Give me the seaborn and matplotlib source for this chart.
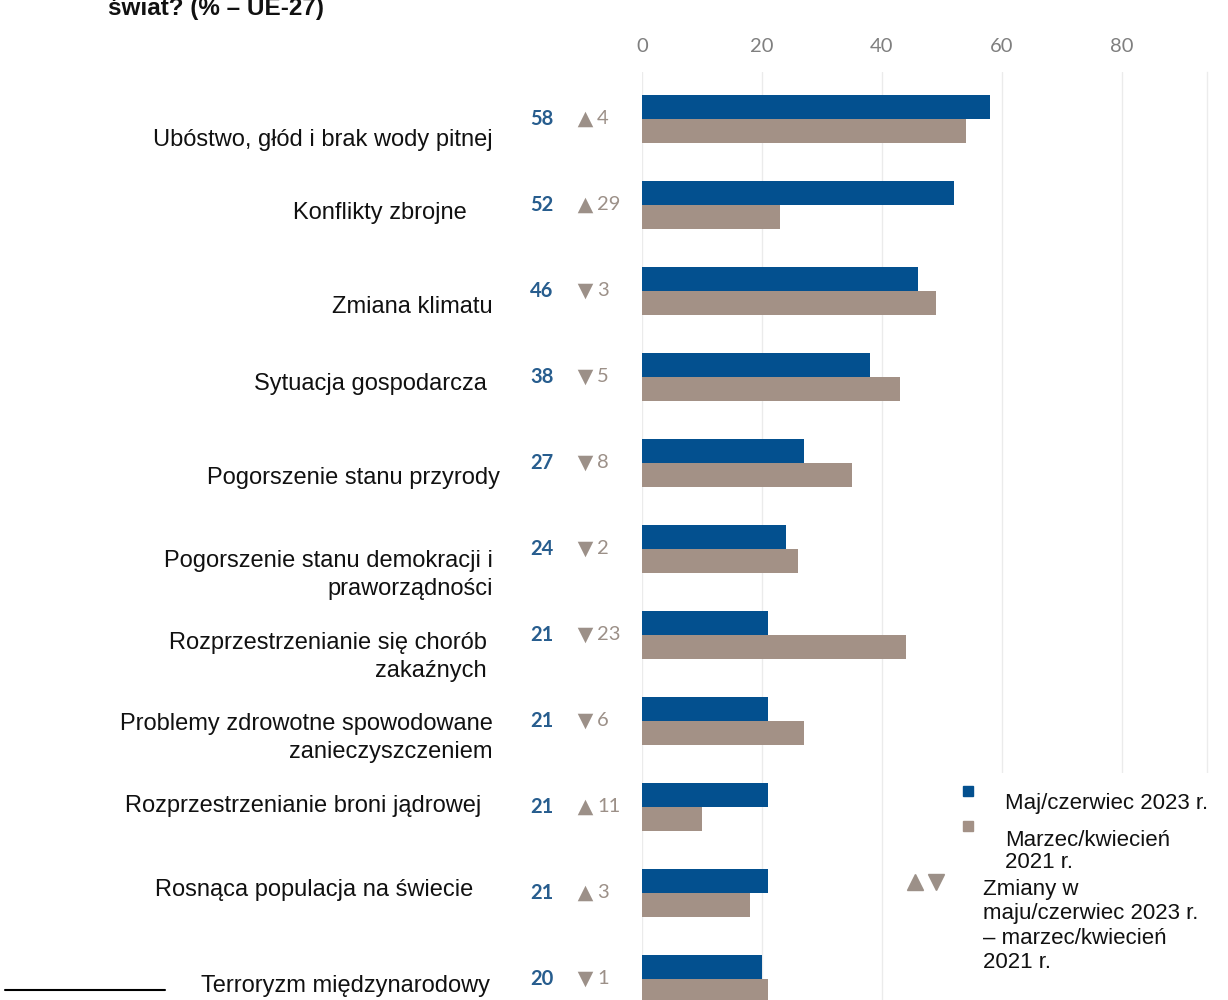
import matplotlib
matplotlib.use("Agg")
import matplotlib.pyplot as plt
import matplotlib.transforms as mtransforms
from matplotlib.lines import Line2D
from matplotlib.patches import Rectangle
import seaborn as sns
import pandas as pd

# ---------------- data ----------------
categories = [
    "Ubóstwo, głód i brak wody pitnej",
    "Konflikty zbrojne",
    "Zmiana klimatu",
    "Sytuacja gospodarcza",
    "Pogorszenie stanu przyrody",
    "Pogorszenie stanu demokracji i\npraworządności",
    "Rozprzestrzenianie się chorób\nzakaźnych",
    "Problemy zdrowotne spowodowane\nzanieczyszczeniem",
    "Rozprzestrzenianie broni jądrowej",
    "Rosnąca populacja na świecie",
    "Terroryzm międzynarodowy",
]
values_2023 = [58, 52, 46, 38, 27, 24, 21, 21, 21, 21, 20]
values_2021 = [54, 23, 49, 43, 35, 26, 44, 27, 10, 18, 21]
changes = [4, 29, -3, -5, -8, -2, -23, -6, 11, 3, -1]
series_names = ["Maj/czerwiec 2023 r.", "Marzec/kwiecień 2021 r."]
x_ticks = [0, 20, 40, 60, 80]
title_text = "świat? (% – UE-27)"
legend_change_lines = ["Zmiany w", "maju/czerwiec 2023 r.", "– marzec/kwiecień", "2021 r."]

# ---------------- layout / style ----------------
W, H = 1228, 1000
BLUE = "#03508f"
GRAY = "#a39186"
TRI_GRAY = "#9c9088"
NUM_BLUE = "#275d8e"
label_right_px = [493, 467, 493, 487, 500, 493, 487, 493, 481, 473, 490]
label_dy_px = [21, 8, 16, 7, 15, 26, 22, 17, -1, -3, 7]

sns.set_theme(style="white")
plt.rcParams["font.family"] = ["Liberation Sans", "DejaVu Sans"]

df = pd.DataFrame({
    "category": categories * 2,
    "period": [series_names[0]] * len(categories) + [series_names[1]] * len(categories),
    "value": values_2023 + values_2021,
})

fig = plt.figure(figsize=(W / 100, H / 100), dpi=100)
ax_left, ax_right, ax_top = 642, 1207, 72
ax = fig.add_axes([ax_left / W, 0, (ax_right - ax_left) / W, 1 - ax_top / H])

sns.barplot(data=df, y="category", x="value", hue="period", orient="h",
            palette=[BLUE, GRAY], width=0.56, saturation=1, legend=False,
            ax=ax, errorbar=None, linewidth=0)

px_per_unit = 6.0
ax.set_xlim(0, (ax_right - ax_left) / px_per_unit)
first_center, spacing = 119, 86
ax.set_ylim((H - first_center) / spacing, (ax_top - first_center) / spacing)

ax.set_xticks(x_ticks)
ax.xaxis.tick_top()
ax.tick_params(axis="x", length=0, pad=12, labelsize=14.5, labelcolor="#7f7f7f")
for t in ax.get_xticklabels():
    t.set_fontfamily(["Lato", "DejaVu Sans"])
ax.set_yticks(range(len(categories)))
ax.set_yticklabels([])
ax.tick_params(axis="y", length=0)
ax.set_xlabel("")
ax.set_ylabel("")
ax.grid(axis="x", color="#ebebeb", linewidth=1)
ax.set_axisbelow(True)
for side in ["top", "bottom", "left"]:
    ax.spines[side].set_visible(False)
ax.spines["right"].set_color("#ececec")
ax.spines["right"].set_linewidth(1)

# category labels
for i, (lab, rx, dy) in enumerate(zip(categories, label_right_px, label_dy_px)):
    tr = mtransforms.offset_copy(ax.transData, fig=fig, x=0, y=-dy, units="dots")
    ax.text((rx - ax_left) / px_per_unit, i, lab, transform=tr, ha="right", va="center",
            fontsize=17, color="#111111", linespacing=1.35, clip_on=False)

# value and change annotations
x_val = (542 - ax_left) / px_per_unit
x_tri = (585 - ax_left) / px_per_unit
x_chg = (597 - ax_left) / px_per_unit
for i, (v, c) in enumerate(zip(values_2023, changes)):
    ax.text(x_val, i, f"{v}", ha="center", va="center", fontsize=14.5, fontweight="bold",
            color=NUM_BLUE, family=["Lato", "DejaVu Sans"], clip_on=False)
    ax.scatter([x_tri], [i], marker="^" if c > 0 else "v", s=125, color=TRI_GRAY,
               linewidths=0, clip_on=False, zorder=5)
    ax.text(x_chg, i, f"{abs(c)}", ha="left", va="center", fontsize=14.5,
            color=TRI_GRAY, family=["Lato", "DejaVu Sans"], clip_on=False)

# title (partly cut off at the top, as in the source)
fig.text(108 / W, 1 - 15 / H, title_text, ha="left", va="baseline", fontsize=17.5,
         fontweight="bold", color="#111111")

# legend box
fig.add_artist(Rectangle((890 / W, 0), 1 - 890 / W, 1 - 773 / H, transform=fig.transFigure,
                         facecolor="white", edgecolor="none", zorder=2))
fig.add_artist(Line2D([968 / W], [1 - 791 / H], marker="s", markersize=7.5, color=BLUE,
                      linestyle="none", transform=fig.transFigure, zorder=3))
fig.add_artist(Line2D([968 / W], [1 - 826 / H], marker="s", markersize=7.5, color=GRAY,
                      linestyle="none", transform=fig.transFigure, zorder=3))
fig.add_artist(Line2D([915 / W], [1 - 882 / H], marker="^", markersize=11, color=TRI_GRAY,
                      linestyle="none", transform=fig.transFigure, zorder=3))
fig.add_artist(Line2D([936 / W], [1 - 882 / H], marker="v", markersize=11, color=TRI_GRAY,
                      linestyle="none", transform=fig.transFigure, zorder=3))
fig.text(1005 / W, 1 - 803 / H, series_names[0], ha="left", va="center", fontsize=16,
         color="#111111", zorder=3)
name2 = series_names[1].split(" ", 1)
fig.text(1005 / W, 1 - 840 / H, name2[0], ha="left", va="center", fontsize=16,
         color="#111111", zorder=3)
fig.text(1005 / W, 1 - 862 / H, name2[1], ha="left", va="center", fontsize=16,
         color="#111111", zorder=3)
for k, line in enumerate(legend_change_lines):
    fig.text(983 / W, 1 - (890 + 24 * k) / H, line, ha="left", va="center", fontsize=16,
             color="#111111", zorder=3)

# footnote separator line
fig.add_artist(Line2D([5 / W, 165 / W], [1 - 990 / H, 1 - 990 / H], color="black",
                      linewidth=1.5, transform=fig.transFigure))

fig.savefig("out.png", dpi=100)
